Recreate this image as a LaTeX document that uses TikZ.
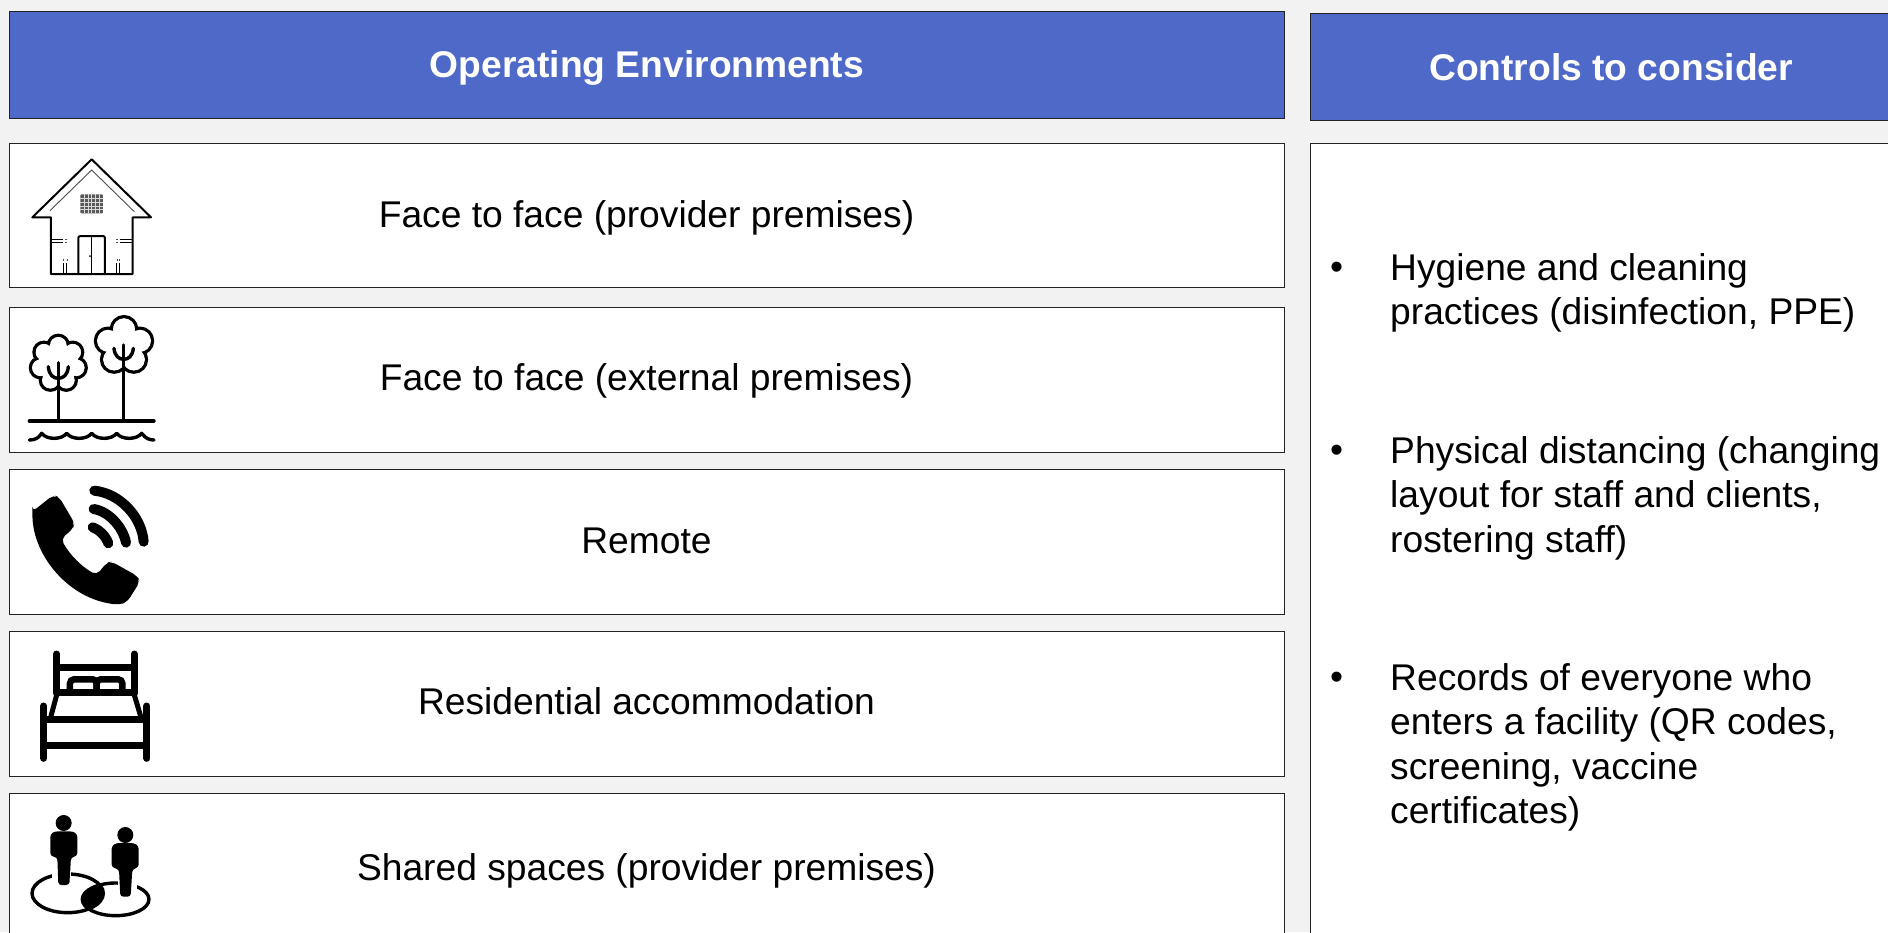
\documentclass[tikz,border=0pt]{standalone}
\usepackage{fontspec}
\setmainfont{Liberation Sans}
\definecolor{pagebg}{HTML}{F2F2F2}
\definecolor{headblue}{HTML}{4F69C9}
\definecolor{edge}{HTML}{222222}
\tikzset{
  headbox/.style={draw=edge,line width=1pt,fill=headblue,anchor=north west,inner sep=0pt},
  headtext/.style={text=white,inner sep=0pt,font=\fontsize{37.2}{44}\selectfont\bfseries},
  envbox/.style={draw=edge,line width=1pt,fill=white,anchor=north west,inner sep=0pt,minimum width=1275pt,minimum height=144.5pt},
  envtext/.style={inner sep=0pt,font=\fontsize{37.2}{44}\selectfont},
  bullettext/.style={anchor=north west,inner sep=0pt,align=left,font=\fontsize{37.2}{44.6}\selectfont},
  bulletmark/.style={anchor=base west,inner sep=0pt,font=\fontsize{37.2}{44.6}\selectfont},
  icon/.style={x=.33333pt,y=-.33333pt},
  hline/.style={draw=black,line width=2pt,line cap=round,line join=round},
  tline/.style={draw=black,line width=3.4pt,line cap=round,line join=round},
  fatline/.style={draw=black,line width=7pt,line cap=round,line join=round},
  waveline/.style={draw=black,line width=10pt,line cap=round,line join=round}
}
\begin{document}
\begin{tikzpicture}[x=1pt,y=-1pt]
\useasboundingbox (0,0) rectangle (1888,932);
\clip (0,0) rectangle (1888,932);
\fill[pagebg] (0,0) rectangle (1888,932);
% headers
\node[headbox,minimum width=1275pt,minimum height=107pt] (h1) at (9,11) {};
\node[headtext] (h1t) at (647,68) {Operating Environments};
\node[headbox,minimum width=600pt,minimum height=107pt] (h2) at (1309.5,12.5) {};
\node[headtext,anchor=west] (h2t) at (1429,67.5) {Controls to consider};
% left boxes
\node[envbox] (e1) at (9,142.7) {};
\node[envtext] (e1t) at (646.5,217.4) {Face to face (provider premises)};
\node[envbox] (e2) at (9,307) {};
\node[envtext] (e2t) at (646.5,380.5) {Face to face (external premises)};
\node[envbox] (e3) at (9,469) {};
\node[envtext] (e3t) at (646.5,541) {Remote};
\node[envbox] (e4) at (9,631) {};
\node[envtext] (e4t) at (646.5,701) {Residential accommodation};
\node[envbox] (e5) at (9,793) {};
\node[envtext] (e5t) at (646.5,871) {Shared spaces (provider premises)};
% right box
\node[draw=edge,line width=1pt,fill=white,anchor=north west,minimum width=600pt,minimum height=820pt] (c) at (1309.5,142.7) {};
\node[bulletmark] (b1) at (1330,279) {•};
\node[bullettext] (t1) at (1390,253) {Hygiene and cleaning\\practices (disinfection, PPE)};
\node[bulletmark] (b2) at (1330,462) {•};
\node[bullettext] (t2) at (1390,436) {Physical distancing (changing\\layout for staff and clients,\\rostering staff)};
\node[bulletmark] (b3) at (1330,689) {•};
\node[bullettext] (t3) at (1390,663) {Records of everyone who\\enters a facility (QR codes,\\screening, vaccine\\certificates)};
% house
\begin{scope}[icon,shift={(0pt,-130pt)}]
\draw[hline] (97,262) -- (275,88) -- (453,262) -- (398,262) -- (398,432) -- (153,432) -- (153,262) -- cycle;
\draw[draw=black!70,line width=.9pt] (150,242) -- (275,120) -- (403,245);
\fill[black!65,rounded corners=1pt] (241,193) rectangle (309,250);
\foreach \i in {1,...,5} {\draw[black!15,line width=.3pt] (241+\i*11.3,193) -- (241+\i*11.3,250);}
\foreach \i in {1,...,4} {\draw[black!15,line width=.3pt] (241,193+\i*11.4) -- (309,193+\i*11.4);}
\draw[hline,rounded corners=2pt] (235,432) -- (235,318) -- (315,318) -- (315,432);
\draw[draw=black,line width=.9pt] (275,318) -- (275,432);
\fill (270,378) circle[radius=3];
\foreach \yy in {327,337} {
  \draw[draw=black,line width=.9pt] (155,\yy) -- (190,\yy);
  \draw[draw=black,line width=.9pt] (360,\yy) -- (397,\yy);
  \fill[black!70] (195,\yy) rectangle (201,\yy+1.5);
  \fill[black!70] (349,\yy) rectangle (355,\yy+1.5);
}
\foreach \xx in {190,200,350,358} {
  \draw[draw=black,line width=.9pt] (\xx,400) -- (\xx,432);
  \fill[black!70] (\xx,387) rectangle (\xx+1.5,393);
}
\end{scope}
% trees
\begin{scope}[icon,shift={(0pt,-130pt)}]
\foreach \k in {0,...,6} {\draw[tline] ({175+55*cos(90+\k*51.43)},{701-55*sin(90+\k*51.43)}) circle[radius=30];}
\foreach \k in {0,...,6} {\fill[white] ({175+55*cos(90+\k*51.43)},{701-55*sin(90+\k*51.43)}) circle[radius=25];}
\fill[white] (175,701) circle[radius=60];
\foreach \k in {0,...,4} {\draw[tline] ({372+50*cos(90+\k*72)},{648-50*sin(90+\k*72)}) circle[radius=38];}
\foreach \k in {0,...,4} {\fill[white] ({372+50*cos(90+\k*72)},{648-50*sin(90+\k*72)}) circle[radius=33];}
\fill[white] (372,648) circle[radius=55];
\draw[tline] (175,698) -- (175,873);
\draw[tline] (371,645) -- (371,873);
\draw[tline] (145,710) .. controls (147,735) and (160,745) .. (175,745) .. controls (190,745) and (203,735) .. (205,710);
\draw[tline] (342,655) .. controls (344,678) and (357,688) .. (371,688) .. controls (385,688) and (398,678) .. (400,655);
\draw[tline] (88,873) -- (462,873);
\draw[tline] (88,930) .. controls (105,930) and (115,925) .. (125,910) .. controls (140,930) and (185,930) .. (200,910) .. controls (215,930) and (260,930) .. (275,910) .. controls (290,930) and (335,930) .. (350,910) .. controls (365,930) and (410,930) .. (425,910) .. controls (437,926) and (450,930) .. (462,930);
\end{scope}
% phone
\begin{scope}[icon,shift={(0pt,-460pt)}]
\fill[black,rounded corners=5pt] (97,155) -- (160,105) -- (178,112) -- (224,190) -- (218,207) -- (183,237) .. controls (210,285) and (245,320) .. (290,345) -- (320,308) -- (335,305) -- (412,348) -- (420,365) -- (382,425) -- (360,434) .. controls (210,420) and (100,290) .. (97,155) -- cycle;
\draw[waveline] (283,92) .. controls (360,100) and (425,170) .. (431,245);
\draw[waveline] (281,147) .. controls (330,155) and (370,205) .. (378,248);
\draw[waveline] (278,202) .. controls (300,210) and (318,230) .. (325,250);
\end{scope}
% bed
\begin{scope}[icon,shift={(0pt,-460pt)}]
\draw[fatline] (170,582) -- (170,700);
\draw[fatline] (403,582) -- (403,700);
\draw[fatline,line cap=butt] (170,622) -- (403,622);
\draw[fatline,line cap=butt] (170,698) -- (403,698);
\draw[draw=black,line width=6.5pt,rounded corners=4pt] (210,690) -- (210,658) -- (290,658) -- (290,695);
\draw[draw=black,line width=6.5pt,rounded corners=4pt] (290,695) -- (290,658) -- (367,658) -- (367,690);
\draw[draw=black,line width=5pt] (170,705) -- (152,772);
\draw[draw=black,line width=5pt] (403,705) -- (423,772);
\draw[fatline] (131,738) -- (131,895);
\draw[fatline] (441,738) -- (441,895);
\draw[fatline,line cap=butt] (131,777) -- (441,777);
\draw[fatline,line cap=butt] (131,855) -- (441,855);
\end{scope}
% people
\begin{scope}[icon,shift={(0pt,-460pt)}]
\draw[draw=black,line width=3.4pt] (203,1300) ellipse[x radius=107,y radius=58];
\draw[draw=black,line width=3.4pt] (347,1318) ellipse[x radius=100,y radius=49];
\begin{scope}
\clip (203,1300) ellipse[x radius=107,y radius=58];
\fill[black] (347,1318) ellipse[x radius=100,y radius=49];
\end{scope}
\fill[white] (155,1225) rectangle (212,1278);
\fill[white] (355,1225) rectangle (412,1312);
\fill[black] (191,1089) circle[radius=24];
\fill[black,rounded corners=3pt] (151,1188) -- (151,1122) -- (165,1114) -- (218,1114) -- (232,1122) -- (232,1188) -- (213,1192) -- (208,1275) -- (175,1275) -- (172,1192) -- cycle;
\fill[black] (376,1125) circle[radius=24];
\fill[black,rounded corners=3pt] (335,1222) -- (335,1158) -- (349,1149) -- (402,1149) -- (416,1158) -- (416,1222) -- (397,1228) -- (392,1310) -- (361,1310) -- (357,1228) -- cycle;
\end{scope}
\end{tikzpicture}
\end{document}
